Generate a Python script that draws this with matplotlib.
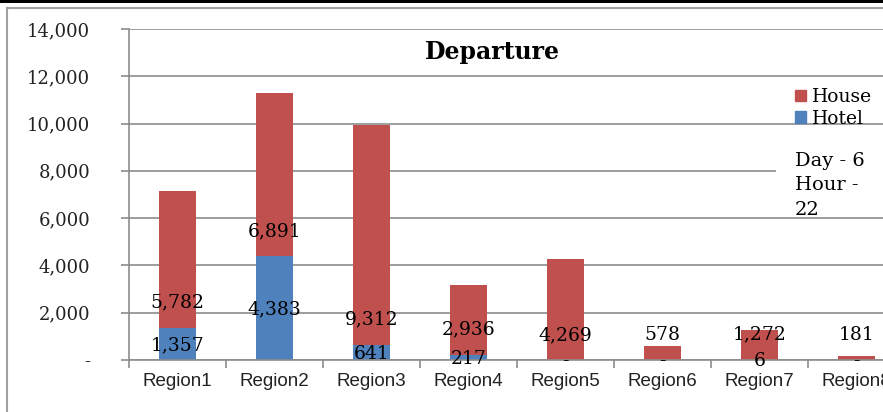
import matplotlib
matplotlib.use("Agg")
import matplotlib.pyplot as plt
from matplotlib.patches import Rectangle
from matplotlib.lines import Line2D
from matplotlib.ticker import FuncFormatter, FixedLocator
import numpy as np

regions = ["Region1", "Region2", "Region3", "Region4", "Region5", "Region6", "Region7", "Region8"]
hotel = [1357, 4383, 641, 217, 0, 0, 6, 0]
house = [5782, 6891, 9312, 2936, 4269, 578, 1272, 181]
yticks = [0, 2000, 4000, 6000, 8000, 10000, 12000, 14000]

red = "#C0504D"
blue = "#4F81BD"
grid_c = "#8c8c8c"

W, H = 883, 412
fig = plt.figure(figsize=(W / 100, H / 100), dpi=100)

def fx(px):
    return px / W

def fy(py):
    return 1 - py / H

# frame lines around the chart area
fig.add_artist(Rectangle((0, fy(3)), 1, 3 / H, transform=fig.transFigure,
                         facecolor="black", edgecolor="none"))
fig.add_artist(Line2D([fx(6.5), 1.2], [fy(8), fy(8)], transform=fig.transFigure,
                      color="#a0a0a0", lw=1.5))
fig.add_artist(Line2D([fx(6.5), fx(6.5)], [fy(8), -0.1], transform=fig.transFigure,
                      color="#a0a0a0", lw=1.5))

ax = fig.add_axes([fx(129), fy(360), fx(776), (360 - 29) / H])
x = np.arange(len(regions))
bw = 0.39
ax.bar(x, hotel, bw, color=blue, label="Hotel", zorder=2)
ax.bar(x, house, bw, bottom=hotel, color=red, label="House", zorder=2)

ax.set_xlim(-0.5, len(regions) - 0.5)
ax.set_ylim(0, 14000)
ax.set_yticks(yticks)
ax.yaxis.set_major_formatter(FuncFormatter(lambda v, p: "-" if v == 0 else f"{int(v):,}"))
ax.yaxis.grid(True, color=grid_c, lw=1.2)
ax.set_axisbelow(True)

ax.set_xticks(x)
ax.set_xticklabels(regions, fontsize=13.5, family="Liberation Sans", color="#222222")
ax.xaxis.set_minor_locator(FixedLocator(np.arange(-0.5, len(regions), 1.0)))
ax.tick_params(axis="x", which="major", length=0, pad=9)
ax.tick_params(axis="x", which="minor", length=6, color=grid_c, width=1.2)
ax.tick_params(axis="y", length=6, color=grid_c, width=1.2, pad=22)
for lab in ax.get_yticklabels():
    lab.set_fontfamily("DejaVu Serif")
    lab.set_fontsize(13)
    lab.set_color("#222222")

for s in ["top", "right"]:
    ax.spines[s].set_visible(False)
for s in ["left", "bottom"]:
    ax.spines[s].set_color(grid_c)
    ax.spines[s].set_linewidth(1.2)

# data labels
for i in range(len(regions)):
    hl = "-" if hotel[i] == 0 else f"{hotel[i]:,}"
    ax.text(x[i], hotel[i] / 2 - 60, hl, ha="center", va="center",
            fontsize=13.5, family="DejaVu Serif", zorder=5)
    ax.text(x[i], hotel[i] + 1060, f"{house[i]:,}", ha="center", va="center",
            fontsize=13.5, family="DejaVu Serif", zorder=5)

fig.text(fx(492), fy(52), "Departure", ha="center", va="center",
         fontsize=17, fontweight="bold", family="DejaVu Serif")

h_handles = [Rectangle((0, 0), 1, 1, color=red), Rectangle((0, 0), 1, 1, color=blue)]
leg = fig.legend(h_handles, ["House", "Hotel"], loc="upper left",
                 bbox_to_anchor=(fx(782), fy(75)), frameon=False,
                 prop={"family": "DejaVu Serif", "size": 13.5},
                 handlelength=0.6, handleheight=0.6, handletextpad=0.3,
                 labelspacing=0.2, borderpad=0.2)

ax.add_patch(Rectangle((fx(776), fy(200)), fx(120), 55 / H, transform=fig.transFigure,
                       facecolor="white", edgecolor="none", clip_on=False, zorder=4))
fig.text(fx(795), fy(152), "Day - 6\nHour -\n22", ha="left", va="top",
         fontsize=14, family="DejaVu Serif", linespacing=1.45, zorder=6)

fig.savefig("out.png", dpi=100)
